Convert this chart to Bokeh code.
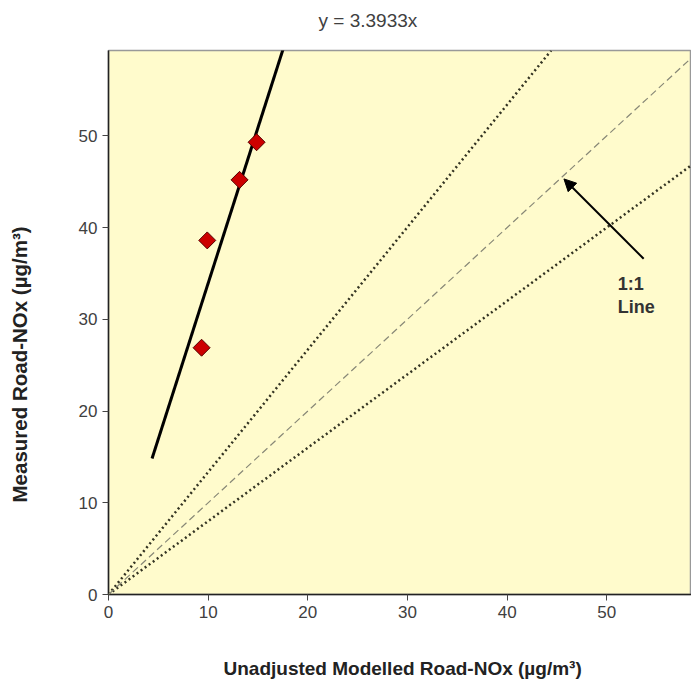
import math
from bokeh.plotting import figure
from bokeh.models import Range1d, Label, Arrow, NormalHead, Slope, FixedTicker, Title
from bokeh.embed import file_html
from bokeh.resources import INLINE

# data
modelled = [9.34, 9.91, 13.15, 14.86]
measured = [26.9, 38.6, 45.2, 49.3]
fit_slope = 3.3933
fit_x = [4.37, 18.0]
guide_slopes = [1.335, 0.8]   # dotted guide lines
one_to_one = 1.0
x_ticks = [0, 10, 20, 30, 40, 50]
y_ticks = [0, 10, 20, 30, 40, 50]

p = figure(width=691, height=686, output_backend="svg", toolbar_location=None,
           x_range=Range1d(0, 58.5), y_range=Range1d(0, 59.3),
           min_border_left=108, min_border_right=0, min_border_top=50, min_border_bottom=92)
p.background_fill_color = "#FFFBCC"
p.border_fill_color = "white"
p.outline_line_color = "#999999"
p.outline_line_width = 1.5
p.xgrid.visible = False
p.ygrid.visible = False

for ax, t in ((p.xaxis, x_ticks), (p.yaxis, y_ticks)):
    ax.ticker = FixedTicker(ticks=t)
    ax.minor_tick_line_color = None
    ax.major_tick_in = 0
    ax.major_tick_out = 6
    ax.axis_line_color = "#222222"
    ax.axis_line_width = 1.5
    ax.major_tick_line_color = "#444444"
    ax.major_label_text_font = "Liberation Sans"
    ax.major_label_text_font_size = "17px"
    ax.major_label_text_color = "#404040"
p.xaxis.major_label_standoff = 5
p.yaxis.major_label_standoff = 5

# guide lines
for s in guide_slopes:
    p.add_layout(Slope(gradient=s, y_intercept=0, line_color="#333322",
                       line_width=2.5, line_dash="2 3"))
p.add_layout(Slope(gradient=one_to_one, y_intercept=0, line_color="#888877",
                   line_width=1.2, line_dash="7 4"))

# fit line
p.line(fit_x, [fit_slope * v for v in fit_x], line_color="black", line_width=3)

# points
p.scatter(modelled, measured, marker="square", angle=math.pi / 4, size=12,
          fill_color="#CC0000", line_color="#550000", line_width=1)

# arrow + label
p.add_layout(Arrow(end=NormalHead(size=12, fill_color="black", line_color="black"),
                   x_start=53.7, y_start=36.6, x_end=45.7, y_end=45.3,
                   line_color="black", line_width=2))
for txt, yy in (("1:1", 33.8), ("Line", 31.3)):
    p.add_layout(Label(x=51.1, y=yy, text=txt, text_align="left", text_baseline="middle",
                       text_font="Liberation Sans", text_font_style="bold",
                       text_font_size="18px", text_color="#333333"))

# spacers (blank titles) to position the outer texts
p.add_layout(Title(text=" ", text_font_size="10px", standoff=6), "above")
p.add_layout(Title(text=" ", text_font_size="20px", standoff=10), "below")
p.add_layout(Title(text=" ", text_font_size="20px", standoff=20), "left")

# title and axis labels
p.add_layout(Title(text="y = 3.3933x", align="left", offset=210, standoff=2,
                   text_font="Liberation Sans", text_font_style="normal",
                   text_font_size="19px", text_color="#404040"), "above")
p.add_layout(Title(text="Unadjusted Modelled  Road-NOx (µg/m³)", align="left", offset=115,
                   standoff=2, text_font="Liberation Sans", text_font_style="bold",
                   text_font_size="19px", text_color="#222222"), "below")
p.add_layout(Title(text="Measured Road-NOx (µg/m³)", align="left", offset=92,
                   standoff=2, text_font="Liberation Sans", text_font_style="bold",
                   text_font_size="20.5px", text_color="#222222"), "left")

open("out.html", "w").write(file_html(p, INLINE))
